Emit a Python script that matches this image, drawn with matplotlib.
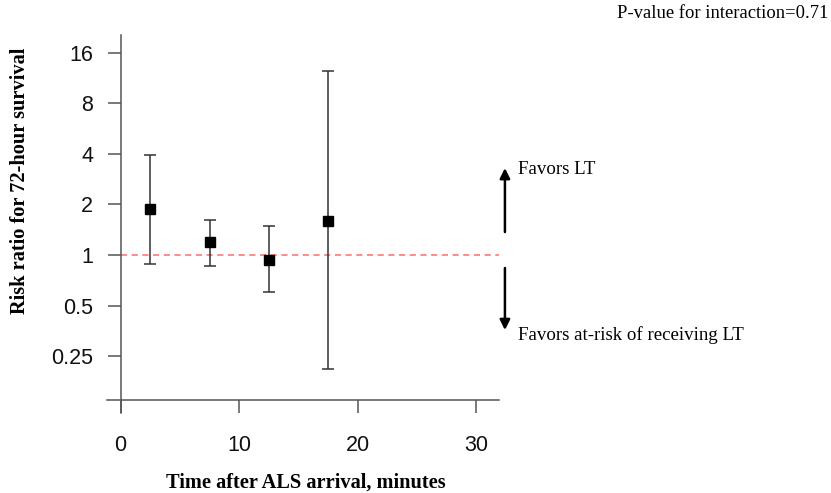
import matplotlib
matplotlib.use("Agg")
from matplotlib import pyplot as plt
from matplotlib.ticker import FixedLocator, FixedFormatter, NullLocator

# data
times = [2.5, 7.5, 12.5, 17.5]
ratio = [1.88, 1.19, 0.94, 1.60]
ci_low = [0.88, 0.86, 0.60, 0.21]
ci_high = [3.93, 1.62, 1.49, 12.4]
y_ticks = [0.25, 0.5, 1, 2, 4, 8, 16]
y_labels = ['0.25', '0.5', '1', '2', '4', '8', '16']
x_ticks = [0, 10, 20, 30]

sans = 'Liberation Sans'
serif = 'Liberation Serif'


def main():
    fig = plt.figure(figsize=(8.31, 4.93), dpi=100)
    ax = fig.add_axes([107 / 831, 1 - 413 / 493, 392 / 831, 378 / 493])
    ax.set_yscale('log', base=2)
    ax.set_xlim(-1.15, 31.9)
    ax.set_ylim(0.1149, 20.36)

    err_lo = [r - l for r, l in zip(ratio, ci_low)]
    err_hi = [h - r for r, h in zip(ratio, ci_high)]
    ax.errorbar(times, ratio, yerr=[err_lo, err_hi], fmt='none',
                ecolor='#333333', elinewidth=1.1, capsize=4.3, capthick=1.1, zorder=3)
    ax.plot(times, ratio, 's', color='black', markersize=7, zorder=4)

    ax.axhline(1, xmin=(0 + 1.15) / 33.05, xmax=1, color='#ff6b6b',
               linestyle=(0, (4, 3)), linewidth=1.1, zorder=2)

    for s in ['top', 'right']:
        ax.spines[s].set_visible(False)
    ax.spines['left'].set_position(('data', 0))
    ax.spines['bottom'].set_position(('data', 0.137))
    for s in ['left', 'bottom']:
        ax.spines[s].set_color('#555555')
        ax.spines[s].set_linewidth(1.1)

    ax.yaxis.set_major_locator(FixedLocator(y_ticks))
    ax.yaxis.set_major_formatter(FixedFormatter(y_labels))
    ax.yaxis.set_minor_locator(NullLocator())
    ax.set_xticks(x_ticks)
    ax.tick_params(axis='both', direction='out', length=9.4, width=1.1,
                   color='#555555', labelsize=15.5, labelcolor='#111111')
    ax.tick_params(axis='y', pad=10.5)
    ax.tick_params(axis='x', pad=15.5)
    for lab in ax.get_xticklabels() + ax.get_yticklabels():
        lab.set_family(sans)

    fig.text(306 / 831, 1 - 483 / 493, 'Time after ALS arrival, minutes',
             family=serif, fontweight='bold', fontsize=14.7, ha='center', va='center')
    fig.text(20 / 831, 1 - 181 / 493, 'Risk ratio for 72-hour survival',
             family=serif, fontweight='bold', fontsize=14.7, rotation=90,
             ha='center', va='center')
    fig.text(828 / 831, 1 - 14 / 493, 'P-value for interaction=0.71',
             family=serif, fontsize=13.4, ha='right', va='center')

    # favour arrows outside the plot area
    arrow = dict(arrowstyle='-|>', color='black', lw=1.8,
                 mutation_scale=15, shrinkA=0, shrinkB=0)
    ax.annotate('', xy=(32.4, 3.29), xytext=(32.4, 1.37), annotation_clip=False,
                arrowprops=arrow)
    ax.annotate('', xy=(32.4, 0.358), xytext=(32.4, 0.837), annotation_clip=False,
                arrowprops=arrow)
    fig.text(518 / 831, 1 - 169 / 493, 'Favors LT', family=serif, fontsize=13.6,
             ha='left', va='center')
    fig.text(518 / 831, 1 - 335 / 493, 'Favors at-risk of receiving LT', family=serif,
             fontsize=13.6, ha='left', va='center')

    fig.savefig('out.png', dpi=100)


if __name__ == "__main__":
    main()
